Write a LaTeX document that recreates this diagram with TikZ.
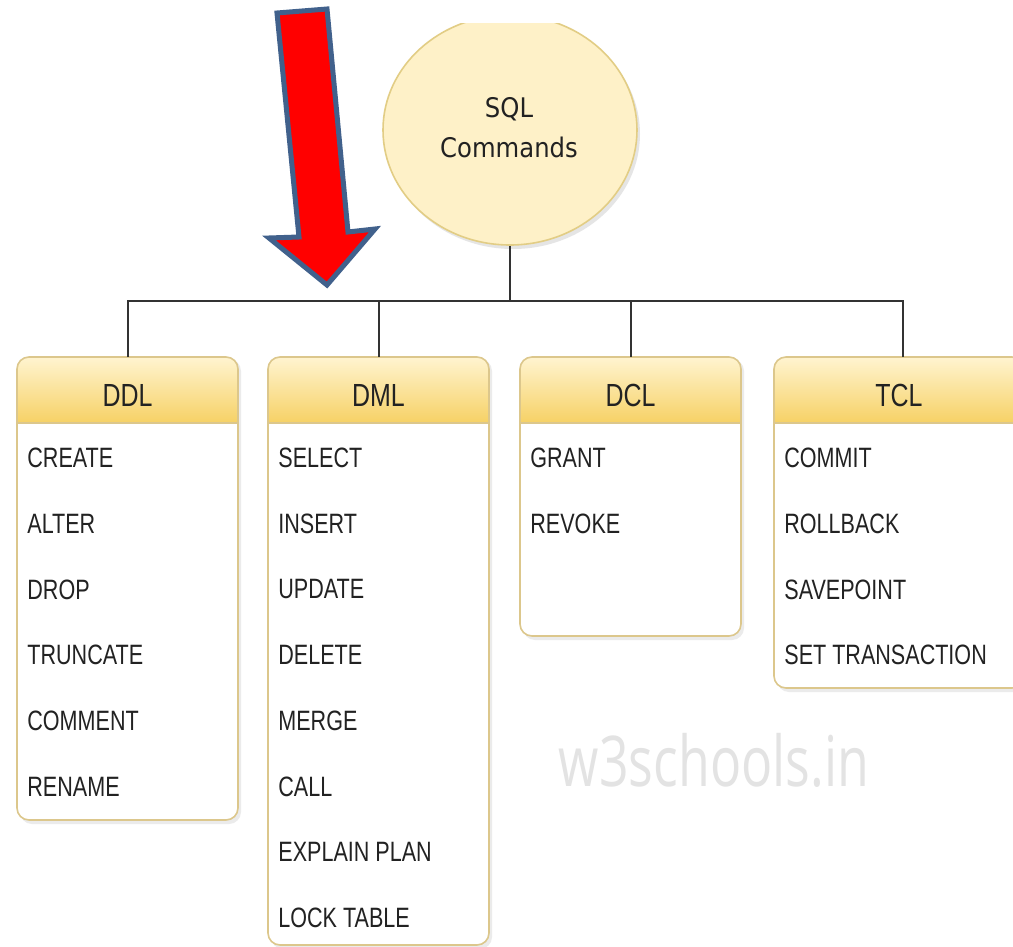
\documentclass[tikz,border=0pt]{standalone}
\usepackage{fontspec}
\setmainfont{Liberation Sans}
\newfontfamily\itemfont[FakeStretch=0.77]{Liberation Sans}
\newfontfamily\titlefont[FakeStretch=0.78]{Liberation Sans}
\newfontfamily\rootfont[FakeStretch=0.9]{DejaVu Sans}
\newfontfamily\wmfont[FakeStretch=0.74]{Open Sans}
\usetikzlibrary{shapes.geometric}
\definecolor{hdtop}{HTML}{FFF4D0}
\definecolor{hdbot}{HTML}{F6D165}
\definecolor{boxline}{HTML}{DCC78C}
\definecolor{rootfill}{HTML}{FEF1C8}
\definecolor{rootline}{HTML}{E2CD85}
\definecolor{conn}{HTML}{333333}
\definecolor{txt}{HTML}{222222}
\definecolor{arrowred}{HTML}{FF0000}
\definecolor{arrowblue}{HTML}{41618C}
\definecolor{wm}{HTML}{E3E3E3}
\tikzset{
  connector/.style={draw=conn, line width=1pt},
  hdr/.style={inner sep=0pt, minimum height=33pt, font=\titlefont\fontsize{16}{18}\selectfont, text=txt},
  itm/.style={inner sep=0pt, anchor=west, font=\itemfont\fontsize{14}{16}\selectfont, text=txt},
  boxframe/.style={draw=boxline, line width=0.8pt, rounded corners=6pt},
  boxshadow/.style={fill=black!8, rounded corners=6pt},
}
% #1 name, #2 left x, #3 bottom y, #4 title, #5 items, #6 width
\newcommand{\catbox}[6]{%
  \fill[boxshadow] (#2+3,359) rectangle (#2+#6+3,#3+4);
  \fill[white, rounded corners=6pt] (#2,357) rectangle (#2+#6,#3);
  \begin{scope}
    \clip[rounded corners=6pt] (#2,357) rectangle (#2+#6,#3);
    \shade[top color=hdtop, bottom color=hdbot] (#2,357) rectangle (#2+#6,423);
  \end{scope}
  \draw[draw=boxline, line width=0.8pt] (#2,423) -- (#2+#6,423);
  \draw[boxframe] (#2,357) rectangle (#2+#6,#3);
  \node[hdr, minimum width=#6*0.5pt] (#1) at (#2+#6/2,390) {};
  \node[hdr] (#1-title) at (#2+#6/2,395) {#4};
  \foreach \t [count=\i] in {#5} {
    \node[itm] (#1-\i) at (#2+10,458+65.7*\i-65.7) {\t};
  }%
}
\begin{document}
\begin{tikzpicture}[x=0.5pt,y=-0.5pt]
\useasboundingbox (0,0) rectangle (1013,947);
\fill[white] (0,0) rectangle (1013,947);
% watermark
\node[font=\wmfont\fontsize{35}{40}\selectfont, text=wm, inner sep=0pt] (wmk) at (714,760) {w3schools.in};
% root ellipse
\begin{scope}
  \clip (0,24) rectangle (1013,947);
  \fill[black!10] (513,134) ellipse [x radius=127, y radius=115];
  \node[ellipse, draw=rootline, line width=0.8pt, fill=rootfill, minimum width=127pt, minimum height=115pt, inner sep=0pt] (root) at (510,130) {};
\end{scope}
\node[font=\rootfont\fontsize{13.5}{20}\selectfont, text=txt, align=center, inner sep=0pt] (roottxt) at (509,128) {SQL\\Commands};
% boxes
\catbox{ddl}{17}{820}{DDL}{CREATE,ALTER,DROP,TRUNCATE,COMMENT,RENAME}{221}
\catbox{dml}{268}{945}{DML}{SELECT,INSERT,UPDATE,DELETE,MERGE,CALL,EXPLAIN PLAN,LOCK TABLE}{221}
\catbox{dcl}{520}{636}{DCL}{GRANT,REVOKE}{221}
\catbox{tcl}{774}{688}{TCL}{COMMIT,ROLLBACK,SAVEPOINT,SET TRANSACTION}{250}
% connectors
\coordinate (bus) at (510,301);
\draw[connector] (root.south) -- (bus);
\draw[connector] (ddl.north) |- (bus);
\draw[connector] (bus) -| ([xshift=2pt]tcl.north);
\draw[connector] (dml.north) -- (dml.north |- bus);
\draw[connector] (dcl.north) -- (dcl.north |- bus);
% red arrow
\draw[fill=arrowred, draw=arrowblue, line width=2.5pt, line join=miter]
  (277,13) -- (327,9) -- (348,232) -- (375,229) -- (327,285) -- (269,238) -- (299,237) -- cycle;
\end{tikzpicture}
\end{document}
